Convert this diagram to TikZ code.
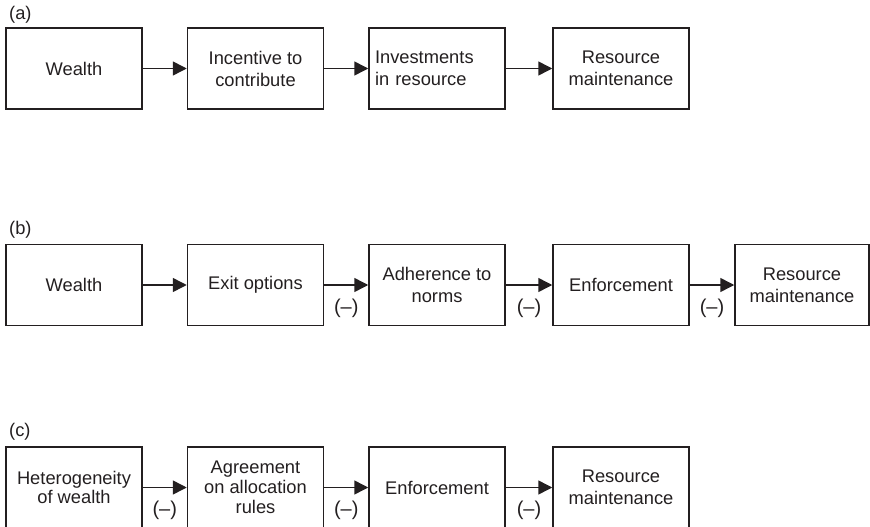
\documentclass[tikz,border=0pt]{standalone}
\usepackage{fontspec}
\setmainfont{Liberation Sans}
\usetikzlibrary{arrows.meta}
\definecolor{ink}{HTML}{231F20}
\newcommand{\boxfont}{\fontsize{18.3}{22}\selectfont}
\begin{document}
\begin{tikzpicture}[x=1pt,y=-1pt,
  every node/.style={text=ink},
  blk/.style={draw=ink, line width=1.5pt, minimum width=136pt, minimum height=81pt,
    inner sep=0pt, align=center, font=\boxfont},
  arr/.style={draw=ink, line width=1.5pt, -{Triangle[length=14pt,width=14pt]}},
  neg/.style={midway, yshift=-23pt, font=\fontsize{20}{24}\selectfont, inner sep=0pt},
  tag/.style={anchor=west, font=\boxfont, inner sep=0pt}]
\useasboundingbox (0,0) rectangle (870,527);
% row (a)
\node[tag] (ta) at (9,15) {(a)};
\node[blk] (a1) at (74,68.5) {Wealth};
\node[blk] (a2) at (255.5,68.5) {Incentive to\\contribute};
\node[blk, align=left, text width=124pt, inner xsep=6pt] (a3) at (437,68.5) {Investments\\in resource};
\node[blk] (a4) at (621,68.5) {Resource\\maintenance};
\draw[arr] (a1) -- (a2);
\draw[arr] (a2) -- (a3);
\draw[arr] (a3) -- (a4);
% row (b)
\node[tag] (tb) at (9,230) {(b)};
\node[blk] (b1) at (74,285) {Wealth};
\node[blk] (b2) at (255.5,285) {Exit options};
\node[blk] (b3) at (437,285) {Adherence to\\norms};
\node[blk] (b4) at (621,285) {Enforcement};
\node[blk, minimum width=134pt] (b5) at (802,285) {Resource\\maintenance};
\draw[arr] (b1) -- (b2);
\draw[arr] (b2) -- node[neg] {(–)} (b3);
\draw[arr] (b3) -- node[neg] {(–)} (b4);
\draw[arr] (b4) -- node[neg] {(–)} (b5);
% row (c)
\node[tag] (tc) at (9,432) {(c)};
\node[blk, font=\fontsize{18.3}{19.5}\selectfont] (c1) at (74,487.5) {Heterogeneity\\of wealth};
\node[blk, font=\fontsize{18.3}{20}\selectfont] (c2) at (255.5,487.5) {Agreement\\on allocation\\rules};
\node[blk] (c3) at (437,487.5) {Enforcement};
\node[blk] (c4) at (621,487.5) {Resource\\maintenance};
\draw[arr] (c1) -- node[neg] {(–)} (c2);
\draw[arr] (c2) -- node[neg] {(–)} (c3);
\draw[arr] (c3) -- node[neg] {(–)} (c4);
\end{tikzpicture}
\end{document}
